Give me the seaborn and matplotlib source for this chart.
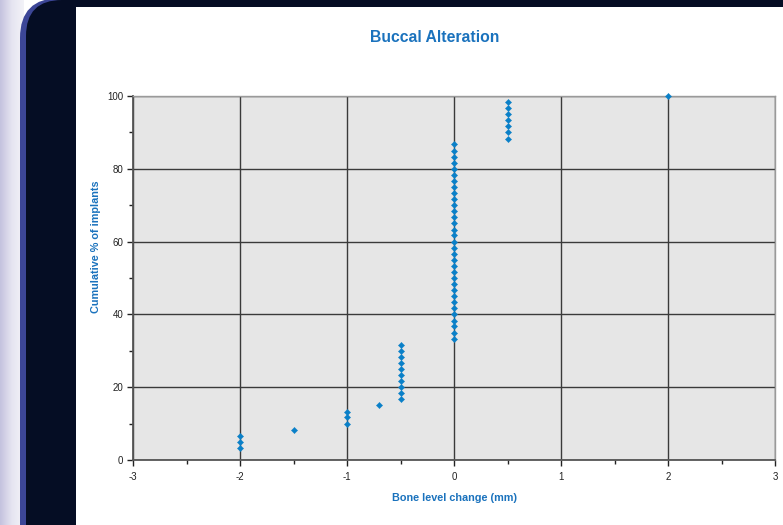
import matplotlib
matplotlib.use("Agg")
import matplotlib.pyplot as plt
import seaborn as sns
import pandas as pd
import numpy as np
from matplotlib.patches import FancyBboxPatch, Rectangle
from matplotlib.ticker import MultipleLocator
from matplotlib.colors import LinearSegmentedColormap

# ---- data ----
bone_change = [-2, -2, -2,
               -1.5,
               -1, -1, -1,
               -0.7,
               -0.5, -0.5, -0.5, -0.5, -0.5, -0.5, -0.5, -0.5, -0.5, -0.5,
               0, 0, 0, 0, 0, 0, 0, 0, 0, 0, 0, 0, 0, 0, 0, 0, 0, 0, 0, 0, 0,
               0, 0, 0, 0, 0, 0, 0, 0, 0, 0, 0, 0,
               0.5, 0.5, 0.5, 0.5, 0.5, 0.5, 0.5,
               2]
cumulative_pct = [3.3, 5.0, 6.7,
                  8.3,
                  10.0, 11.7, 13.3,
                  15.0,
                  16.7, 18.3, 20.0, 21.7, 23.3, 25.0, 26.7, 28.3, 30.0, 31.7,
                  33.3, 35.0, 36.7, 38.3, 40.0, 41.7, 43.3, 45.0, 46.7, 48.3,
                  50.0, 51.7, 53.3, 55.0, 56.7, 58.3, 60.0, 61.7, 63.3, 65.0,
                  66.7, 68.3, 70.0, 71.7, 73.3, 75.0, 76.7, 78.3, 80.0, 81.7,
                  83.3, 85.0, 86.7,
                  88.3, 90.0, 91.7, 93.3, 95.0, 96.7, 98.3,
                  100.0]
x_ticks = [-3, -2, -1, 0, 1, 2, 3]
y_ticks = [0, 20, 40, 60, 80, 100]

title = "Buccal Alteration"
x_label = "Bone level change (mm)"
y_label = "Cumulative % of implants"

df = pd.DataFrame({"change": bone_change, "pct": cumulative_pct})

sns.set_style("whitegrid")
plt.rcParams['font.family'] = ['Liberation Sans', 'DejaVu Sans']

BLUE_TXT = "#1a72bd"
MARK = "#0a80c8"

W, H = 783, 525
fig = plt.figure(figsize=(W / 100, H / 100), dpi=100)
fig.patch.set_facecolor("white")

def fx(px): return px / W
def fy(py): return 1 - py / H

# ---- background decoration in a pixel-coordinate axes ----
bg = fig.add_axes([0, 0, 1, 1], zorder=-10)
grad = np.linspace(0, 1, 64).reshape(1, -1)
cm = LinearSegmentedColormap.from_list("lav", ["#c4c2de", "#e6e5f1", "#f3f3f8"])
bg.imshow(grad, aspect="auto", cmap=cm, extent=[0, 24, H, 0], zorder=0)
bg.set_xlim(0, W)
bg.set_ylim(H, 0)
bg.set_axis_off()
bg.add_patch(FancyBboxPatch((20, -2), W + 100, H + 100,
                            boxstyle="round,pad=0,rounding_size=40",
                            facecolor="#3c4697", edgecolor="none", zorder=1))
bg.add_patch(FancyBboxPatch((26, 0), W + 100, H + 100,
                            boxstyle="round,pad=0,rounding_size=36",
                            facecolor="#050d24", edgecolor="none", zorder=2))
bg.add_patch(Rectangle((76, 7), W, H, facecolor="white", edgecolor="none", zorder=3))

# ---- chart ----
ax = fig.add_axes([fx(133), fy(460), fx(775) - fx(133), fy(96) - fy(460)])
ax.set_facecolor("#e6e6e6")

sns.scatterplot(data=df, x="change", y="pct", ax=ax, marker="D", s=10,
                color=MARK, edgecolor=MARK, linewidth=0.3, zorder=3, clip_on=False)

ax.set_xlim(-3, 3)
ax.set_ylim(0, 100)
ax.set_xticks(x_ticks)
ax.set_yticks(y_ticks)
ax.xaxis.set_minor_locator(MultipleLocator(0.5))
ax.yaxis.set_minor_locator(MultipleLocator(10))
ax.set_xticklabels([str(t) for t in x_ticks])
ax.set_yticklabels([str(t) for t in y_ticks])

ax.grid(True, which="major", color="#3a3a3a", linewidth=1.0)
ax.grid(False, which="minor")
ax.set_axisbelow(True)

for s in ["left", "bottom"]:
    ax.spines[s].set_color("#555555")
    ax.spines[s].set_linewidth(1.3)
for s in ["top", "right"]:
    ax.spines[s].set_color("#9a9a9a")
    ax.spines[s].set_linewidth(1.0)

ax.tick_params(axis="both", which="both", direction="out", color="#222222",
               labelsize=7, labelcolor="#222222")
ax.tick_params(axis="both", which="major", length=4, width=1, bottom=True, left=True)
ax.tick_params(axis="both", which="minor", length=3, width=1, bottom=True, left=True)
ax.tick_params(axis="x", which="major", pad=5)
ax.tick_params(axis="y", which="major", pad=3)

ax.set_xlabel(x_label, fontsize=7.8, fontweight="bold", color=BLUE_TXT)
ax.xaxis.set_label_coords(0.5, -0.09)
ax.set_ylabel(y_label, fontsize=7.8, fontweight="bold", color=BLUE_TXT)
ax.yaxis.set_label_coords(-0.05, 0.585)

fig.text(fx(435), fy(38), title, ha="center", va="center", fontsize=11.3,
         fontweight="bold", color=BLUE_TXT)

fig.savefig("out.png", dpi=100)
